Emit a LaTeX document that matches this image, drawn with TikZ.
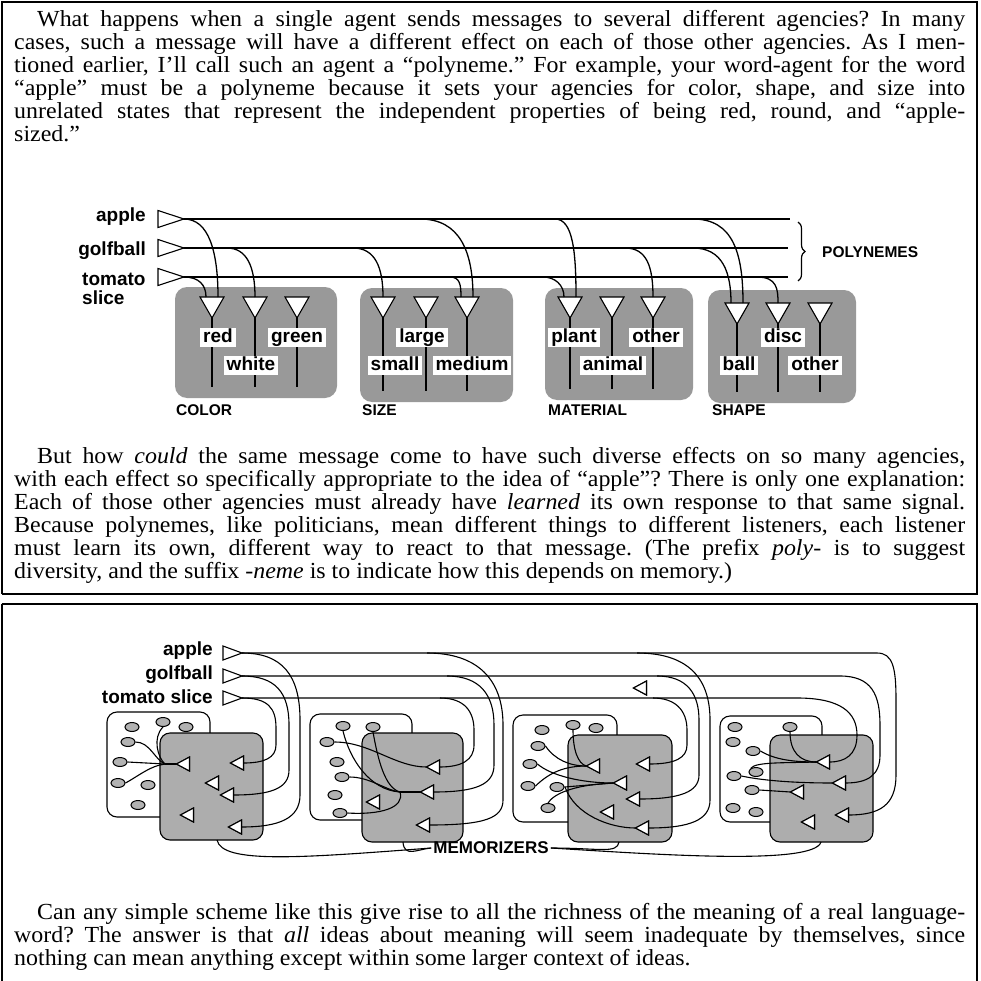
\documentclass[tikz,border=0pt]{standalone}
\usepackage{fontspec}
\setmainfont{Liberation Serif}[FakeStretch=1.04]
\newfontfamily\mysans{Liberation Sans}
\usetikzlibrary{decorations.pathreplacing,shapes.geometric}
\newcommand\mylabfont{\mysans\bfseries\fontsize{19}{21}\selectfont}
\newcommand\mycapfont{\mysans\bfseries\fontsize{15.5}{17}\selectfont}
\newcommand\mymemfont{\mysans\bfseries\fontsize{17}{19}\selectfont}
\newcommand\mytextfont{\fontsize{23}{23}\selectfont\frenchspacing\hyphenpenalty=10000\tolerance=10000\hbadness=10000}
% down-pointing agent: x, ytop, name
\newcommand\downtri[3]{%
  \draw[tri] ({#1-12},#2) -- ({#1+12},#2) -- (#1,{#2+21}) -- cycle;
  \coordinate (#3) at (#1,#2);
  \coordinate (#3l) at ({#1-6},#2);
  \coordinate (#3r) at ({#1+6},#2);
  \coordinate (#3o) at (#1,{#2+21});}
% right-pointing input agent: xleft, ycenter, name, length, halfheight
\newcommand\righttri[5]{%
  \draw[tri] (#1,{#2-#5}) -- ({#1+#4},#2) -- (#1,{#2+#5}) -- cycle;
  \coordinate (#3) at ({#1+#4},#2);}
% left-pointing small agent: xcenter, ycenter, name
\newcommand\lefttri[3]{%
  \draw[stri] ({#1-6.5},#2) -- ({#1+6.5},{#2-7}) -- ({#1+6.5},{#2+7}) -- cycle;
  \coordinate (#3t) at ({#1-6.5},#2);
  \coordinate (#3b) at ({#1+6.5},#2);}
\begin{document}
\begin{tikzpicture}[x=1pt,y=-1pt,
  wire/.style={line width=1.3pt},
  swire/.style={line width=1.1pt},
  tri/.style={line width=1.1pt,fill=white,line join=miter},
  stri/.style={line width=1.1pt,fill=white,line join=miter},
  agency/.style={fill=black!40,rounded corners=12pt},
  lbl/.style={font=\mylabfont,fill=white,inner xsep=3pt,inner ysep=1pt,text height=13.5pt,text depth=3.5pt,anchor=base},
  inlbl/.style={font=\mylabfont,inner sep=0pt},
  capt/.style={font=\mycapfont,inner sep=0pt,anchor=base west},
  wbox/.style={draw,line width=1.1pt,fill=white,rounded corners=10pt},
  gbox/.style={draw,line width=1.1pt,fill=black!32,rounded corners=10pt},
  oval/.style={ellipse,draw,line width=1pt,fill=black!30,minimum width=14pt,minimum height=9pt,inner sep=0pt},
  frame/.style={line width=1.2pt},
  bframe/.style={line width=2.6pt}
]
\useasboundingbox (0,0) rectangle (980,981);
% ---------- frames ----------
\draw[frame] (2,594) -- (2,2) -- (977,2);
\draw[bframe] (977,1.5) -- (977,594) -- (1.5,594);
\draw[bframe] (1.5,604) -- (978,604);
\draw[frame] (2,604) -- (2,981);
\draw[bframe] (977,604) -- (977,981);
% ---------- texts ----------
\node[anchor=base west,inner sep=0pt] (p1) at (14,27) {\parbox[t]{951pt}{\mytextfont\hspace*{23pt}What happens when a single agent sends messages to several different agencies? In many\linebreak cases, such a message will have a different effect on each of those other agencies. As I men-\linebreak tioned earlier, I’ll call such an agent a “polyneme.” For example, your word-agent for the word\linebreak “apple” must be a polyneme because it sets your agencies for color, shape, and size into\linebreak unrelated states that represent the independent properties of being red, round, and “apple-\linebreak sized.”}};
\node[anchor=base west,inner sep=0pt] (p2) at (14,463) {\parbox[t]{951pt}{\mytextfont\hspace*{23pt}But how \textit{could} the same message come to have such diverse effects on so many agencies,\linebreak with each effect so specifically appropriate to the idea of “apple”? There is only one explanation:\linebreak Each of those other agencies must already have \textit{learned} its own response to that same signal.\linebreak Because polynemes, like politicians, mean different things to different listeners, each listener\linebreak must learn its own, different way to react to that message. (The prefix \textit{poly-} is to suggest\linebreak diversity, and the suffix \textit{-neme} is to indicate how this depends on memory.)}};
\node[anchor=base west,inner sep=0pt] (p3) at (14,919) {\parbox[t]{951pt}{\mytextfont\hspace*{23pt}Can any simple scheme like this give rise to all the richness of the meaning of a real language-\linebreak word? The answer is that \textit{all} ideas about meaning will seem inadequate by themselves, since\linebreak nothing can mean anything except within some larger context of ideas.}};
% ================= TOP DIAGRAM =================
\fill[agency] (175,287) rectangle (337,398);
\fill[agency] (360,288) rectangle (513,402);
\fill[agency] (545,288) rectangle (693,400);
\fill[agency] (708,290) rectangle (856,403);
\node[capt] (cC) at (176,415.5) {COLOR};
\node[capt] (cS) at (362,415.5) {SIZE};
\node[capt] (cM) at (548,415.5) {MATERIAL};
\node[capt] (cH) at (712,415.5) {SHAPE};
% input labels
\node[inlbl,anchor=base east] (lApple) at (146,222) {apple};
\node[inlbl,anchor=base east] (lGolf) at (146,256) {golfball};
\node[inlbl,anchor=base west] (lTom) at (82,286) {tomato};
\node[inlbl,anchor=base west] (lSlice) at (82,304) {slice};
% polyneme lines
\coordinate (apE) at (790,219);
\coordinate (gbE) at (788,248);
\coordinate (tmE) at (788,277);
\draw[wire] (158,219) -- (apE);
\draw[wire] (158,248) -- (gbE);
\draw[wire] (158,277) -- (tmE);
% vertical output lines
\foreach \x in {212,255,297} \draw[wire] (\x,318) -- (\x,387);
\foreach \x in {383,426,467} \draw[wire] (\x,318) -- (\x,391);
\foreach \x in {570,612,653} \draw[wire] (\x,318) -- (\x,389);
\foreach \x in {737,778,820} \draw[wire] (\x,324) -- (\x,392);
% branch points
\coordinate (bgW) at (227,248);
\coordinate (bgS) at (353,248);
\coordinate (baM) at (420,219);
\coordinate (btM) at (450,277);
\coordinate (btP) at (543,277);
\coordinate (baP) at (555,219);
\coordinate (bgO) at (625,248);
\coordinate (baB) at (693,219);
\coordinate (bgB) at (693,248);
\coordinate (btD) at (757,277);
% agency triangles
\downtri{212}{297}{tRed}
\downtri{255}{297}{tWhite}
\downtri{297}{297}{tGreen}
\downtri{383}{297}{tSmall}
\downtri{426}{297}{tLarge}
\downtri{467}{297}{tMedium}
\downtri{570}{297}{tPlant}
\downtri{612}{297}{tAnimal}
\downtri{653}{297}{tOther}
\downtri{737}{303}{tBall}
\downtri{778}{303}{tDisc}
\downtri{820}{303}{tOtherS}
\righttri{158}{219}{ap}{26}{8.5}
\righttri{158}{248}{gb}{26}{8.5}
\righttri{158}{277}{tm}{26}{8.5}
% branches
\draw[wire] (ap) .. controls +(25,0) and +(0,-45) .. (tRedr);
\draw[wire] (tm) .. controls +(15,0) and +(0,-12) .. (tRedl);
\draw[wire] (bgW) .. controls +(20,0) and +(0,-30) .. (tWhite);
\draw[wire] (bgS) .. controls +(22,0) and +(0,-30) .. (tSmall);
\draw[wire] (baM) .. controls +(40,0) and +(0,-45) .. (tMediumr);
\draw[wire] (btM) .. controls +(10,0) and +(0,-12) .. (tMediuml);
\draw[wire] (btP) .. controls +(12,0) and +(0,-12) .. (tPlantl);
\draw[wire] (baP) .. controls +(18,0) and +(0,-45) .. (tPlantr);
\draw[wire] (bgO) .. controls +(22,0) and +(0,-30) .. (tOther);
\draw[wire] (baB) .. controls +(40,0) and +(0,-50) .. (tBallr);
\draw[wire] (bgB) .. controls +(30,0) and +(0,-30) .. (tBalll);
\draw[wire] (btD) .. controls +(20,0) and +(0,-14) .. (tDisc);
% agency labels
\node[lbl] (lRed) at (218,342) {red};
\node[lbl] (lWhite) at (251,370) {white};
\node[lbl] (lGreen) at (297,342) {green};
\node[lbl] (lLarge) at (422,342) {large};
\node[lbl] (lSmall) at (395,370) {small};
\node[lbl] (lMedium) at (472,370) {medium};
\node[lbl] (lPlant) at (574,342) {plant};
\node[lbl] (lOther) at (656,342) {other};
\node[lbl] (lAnimal) at (613,370) {animal};
\node[lbl] (lDisc) at (783,342) {disc};
\node[lbl] (lBall) at (739,370) {ball};
\node[lbl] (lOtherS) at (815,370) {other};
% brace
\draw[line width=1.2pt,decorate,decoration={brace,amplitude=7pt}] (798,222) -- (798,281);
\node[capt,anchor=west] (poly) at (822,252) {POLYNEMES};
% ================= BOTTOM DIAGRAM =================
\node[inlbl,anchor=base east] (bApple) at (213,655) {apple};
\node[inlbl,anchor=base east] (bGolf) at (213,679) {golfball};
\node[inlbl,anchor=base east] (bTom) at (213,703) {tomato slice};
% white boxes
\draw[wbox] (107,712) rectangle (210,817);
\draw[wbox] (310,714) rectangle (412,820);
\draw[wbox] (513,715) rectangle (617,822);
\draw[wbox] (720,716) rectangle (822,822);
% ovals
\foreach \n/\p in {1/{(132,727)},2/{(163,722)},3/{(186,727)},4/{(128,742)},5/{(120,762)},6/{(118,783)},7/{(148,785)},8/{(138,805)}}
  \node[oval] (o\n) at \p {};
\foreach \n/\p in {1/{(343,726)},2/{(373,727)},3/{(327,742)},4/{(337,762)},5/{(342,777)},6/{(335,795)},7/{(340,813)}}
  \node[oval] (p\n) at \p {};
\foreach \n/\p in {1/{(542,730)},2/{(573,725)},3/{(596,728)},4/{(538,746)},5/{(530,764)},6/{(528,786)},7/{(557,787)},8/{(548,808)}}
  \node[oval] (q\n) at \p {};
\foreach \n/\p in {1/{(735,727)},2/{(790,727)},3/{(733,742)},4/{(753,751)},5/{(756,772)},6/{(734,776)},7/{(752,790)},8/{(733,808)},9/{(756,812)}}
  \node[oval] (r\n) at \p {};
% gray boxes
\draw[gbox] (160,733) rectangle (263,840);
\draw[gbox] (362,733) rectangle (463,842);
\draw[gbox] (568,735) rectangle (672,842);
\draw[gbox] (770,735) rectangle (873,842);
% input coordinates
\coordinate (bA) at (242,653);
\coordinate (bG) at (242,676);
\coordinate (bT) at (242,698);
% memorizer triangles (first pass, define anchors)
\lefttri{823}{762}{m4a}
\lefttri{839}{783}{m4b}
\lefttri{797}{792}{m4c}
\lefttri{842}{815}{m4d}
\lefttri{808}{822}{m4e}
\lefttri{183}{764}{m1a}
\lefttri{237}{763}{m1b}
\lefttri{212}{783}{m1c}
\lefttri{227}{795}{m1d}
\lefttri{187}{815}{m1e}
\lefttri{235}{827}{m1f}
\lefttri{433}{767}{m2a}
\lefttri{427}{792}{m2b}
\lefttri{373}{802}{m2c}
\lefttri{423}{825}{m2d}
\lefttri{593}{766}{m3a}
\lefttri{643}{764}{m3b}
\lefttri{620}{783}{m3c}
\lefttri{633}{799}{m3d}
\lefttri{607}{812}{m3e}
\lefttri{642}{828}{m3f}
\lefttri{640}{688}{lone}
% main polyneme lines ending in memorizer 4
\draw[swire] (bA) -- (877,653) .. controls (893,653) and (896,668) .. (896,700) -- (896,775) .. controls (896,805) and (880,815) .. (m4db);
\draw[swire] (bG) -- (840,676) .. controls (872,676) and (880,695) .. (880,725) -- (880,755) .. controls (880,775) and (868,783) .. (m4bb);
\draw[swire] (bT) -- (797,698) .. controls (840,698) and (857,712) .. (857,735) .. controls (857,755) and (845,762) .. (m4ab);
% memorizer 1 branches
\draw[swire] (bT) .. controls (268,698) and (276,708) .. (276,728) -- (276,745) .. controls (276,758) and (264,763) .. (m1bb);
\draw[swire] (bG) .. controls (275,676) and (289,692) .. (289,725) -- (289,770) .. controls (289,788) and (272,795) .. (m1db);
\draw[swire] (bA) .. controls (282,653) and (300,675) .. (300,720) -- (300,795) .. controls (300,818) and (280,827) .. (m1fb);
% memorizer 2 branches
\coordinate (s2t) at (440,698);
\coordinate (s2g) at (447,676);
\coordinate (s2a) at (427,653);
\draw[swire] (s2t) .. controls (465,698) and (474,712) .. (474,730) -- (474,745) .. controls (474,760) and (462,767) .. (m2ab);
\draw[swire] (s2g) .. controls (480,676) and (494,695) .. (494,725) -- (494,765) .. controls (494,785) and (475,792) .. (m2bb);
\draw[swire] (s2a) .. controls (478,653) and (503,680) .. (503,725) -- (503,800) .. controls (503,818) and (485,825) .. (m2db);
% memorizer 3 branches
\coordinate (s3t) at (653,698);
\coordinate (s3g) at (657,676);
\coordinate (s3a) at (637,653);
\draw[swire] (s3t) .. controls (675,698) and (687,710) .. (687,730) -- (687,745) .. controls (687,758) and (675,764) .. (m3bb);
\draw[swire] (s3g) .. controls (688,676) and (699,695) .. (699,720) -- (699,775) .. controls (699,792) and (680,799) .. (m3db);
\draw[swire] (s3a) .. controls (690,653) and (710,680) .. (710,720) -- (710,800) .. controls (710,820) and (690,828) .. (m3fb);
% oval wires memorizer 1
\coordinate (cv1) at (165,764);
\draw[swire] (o4.east) .. controls (150,742) and (155,760) .. (cv1);
\draw[swire] (o2.south) .. controls (152,738) and (158,758) .. (cv1);
\draw[swire] (o5.east) -- (cv1);
\draw[swire] (o6.east) .. controls (140,775) and (150,766) .. (cv1);
\draw[swire] (cv1) -- (m1at);
% memorizer 2
\coordinate (cv2) at (400,792);
\draw[swire] (p3.east) .. controls (370,742) and (395,767) .. (m2at);
\draw[swire] (p1.south) .. controls (350,760) and (370,790) .. (cv2);
\draw[swire] (p2.south) .. controls (378,760) and (385,788) .. (cv2);
\draw[swire] (p5.east) .. controls (370,777) and (385,790) .. (cv2);
\draw[swire] (p7.east) .. controls (380,815) and (405,808) .. (cv2);
\draw[swire] (cv2) -- (m2bt);
% memorizer 3
\coordinate (cv3) at (565,787);
\draw[swire] (q4.east) .. controls (555,760) and (570,766) .. (m3at);
\draw[swire] (q2.south) .. controls (573,750) and (578,764) .. (m3at);
\draw[swire] (q6.east) .. controls (550,772) and (565,766) .. (m3at);
\draw[swire] (q5.east) .. controls (550,775) and (580,783) .. (m3ct);
\draw[swire] (q7.east) -- (m3ct);
\draw[swire] (q8.north) .. controls (553,795) and (570,785) .. (m3ct);
\draw[swire] (cv3) .. controls (575,815) and (610,828) .. (m3ft);
% memorizer 4
\draw[swire] (r2.south) .. controls (790,752) and (800,762) .. (m4at);
\draw[swire] (r4.east) .. controls (775,760) and (795,762) .. (m4at);
\draw[swire] (r5.north west) .. controls (755,762) and (780,763) .. (m4at);
\draw[swire] (r6.east) .. controls (760,780) and (790,783) .. (m4bt);
\draw[swire] (r7.east) -- (m4ct);
% redraw triangles on top
\lefttri{823}{762}{m4a}\lefttri{839}{783}{m4b}\lefttri{797}{792}{m4c}\lefttri{842}{815}{m4d}\lefttri{808}{822}{m4e}
\lefttri{183}{764}{m1a}\lefttri{237}{763}{m1b}\lefttri{212}{783}{m1c}\lefttri{227}{795}{m1d}\lefttri{187}{815}{m1e}\lefttri{235}{827}{m1f}
\lefttri{433}{767}{m2a}\lefttri{427}{792}{m2b}\lefttri{373}{802}{m2c}\lefttri{423}{825}{m2d}
\lefttri{593}{766}{m3a}\lefttri{643}{764}{m3b}\lefttri{620}{783}{m3c}\lefttri{633}{799}{m3d}\lefttri{607}{812}{m3e}\lefttri{642}{828}{m3f}
\lefttri{640}{688}{lone}
\righttri{223}{653}{bA}{19}{7}
\righttri{223}{676}{bG}{19}{7}
\righttri{223}{698}{bT}{19}{7}
% memorizers label
\node[font=\mymemfont,inner sep=2pt] (mem) at (491,848) {MEMORIZERS};
\coordinate (g1b) at (217,840);
\coordinate (g2b) at (403,842);
\coordinate (g3b) at (619,842);
\coordinate (g4b) at (821,842);
\draw[swire] (g1b) .. controls (222,864) and (300,858) .. (mem.west);
\draw[swire] (g2b) .. controls (404,858) and (418,849) .. (mem.west);
\draw[swire] (g3b) .. controls (617,854) and (600,848) .. (mem.east);
\draw[swire] (g4b) .. controls (814,866) and (650,854) .. (mem.east);
\end{tikzpicture}
\end{document}
